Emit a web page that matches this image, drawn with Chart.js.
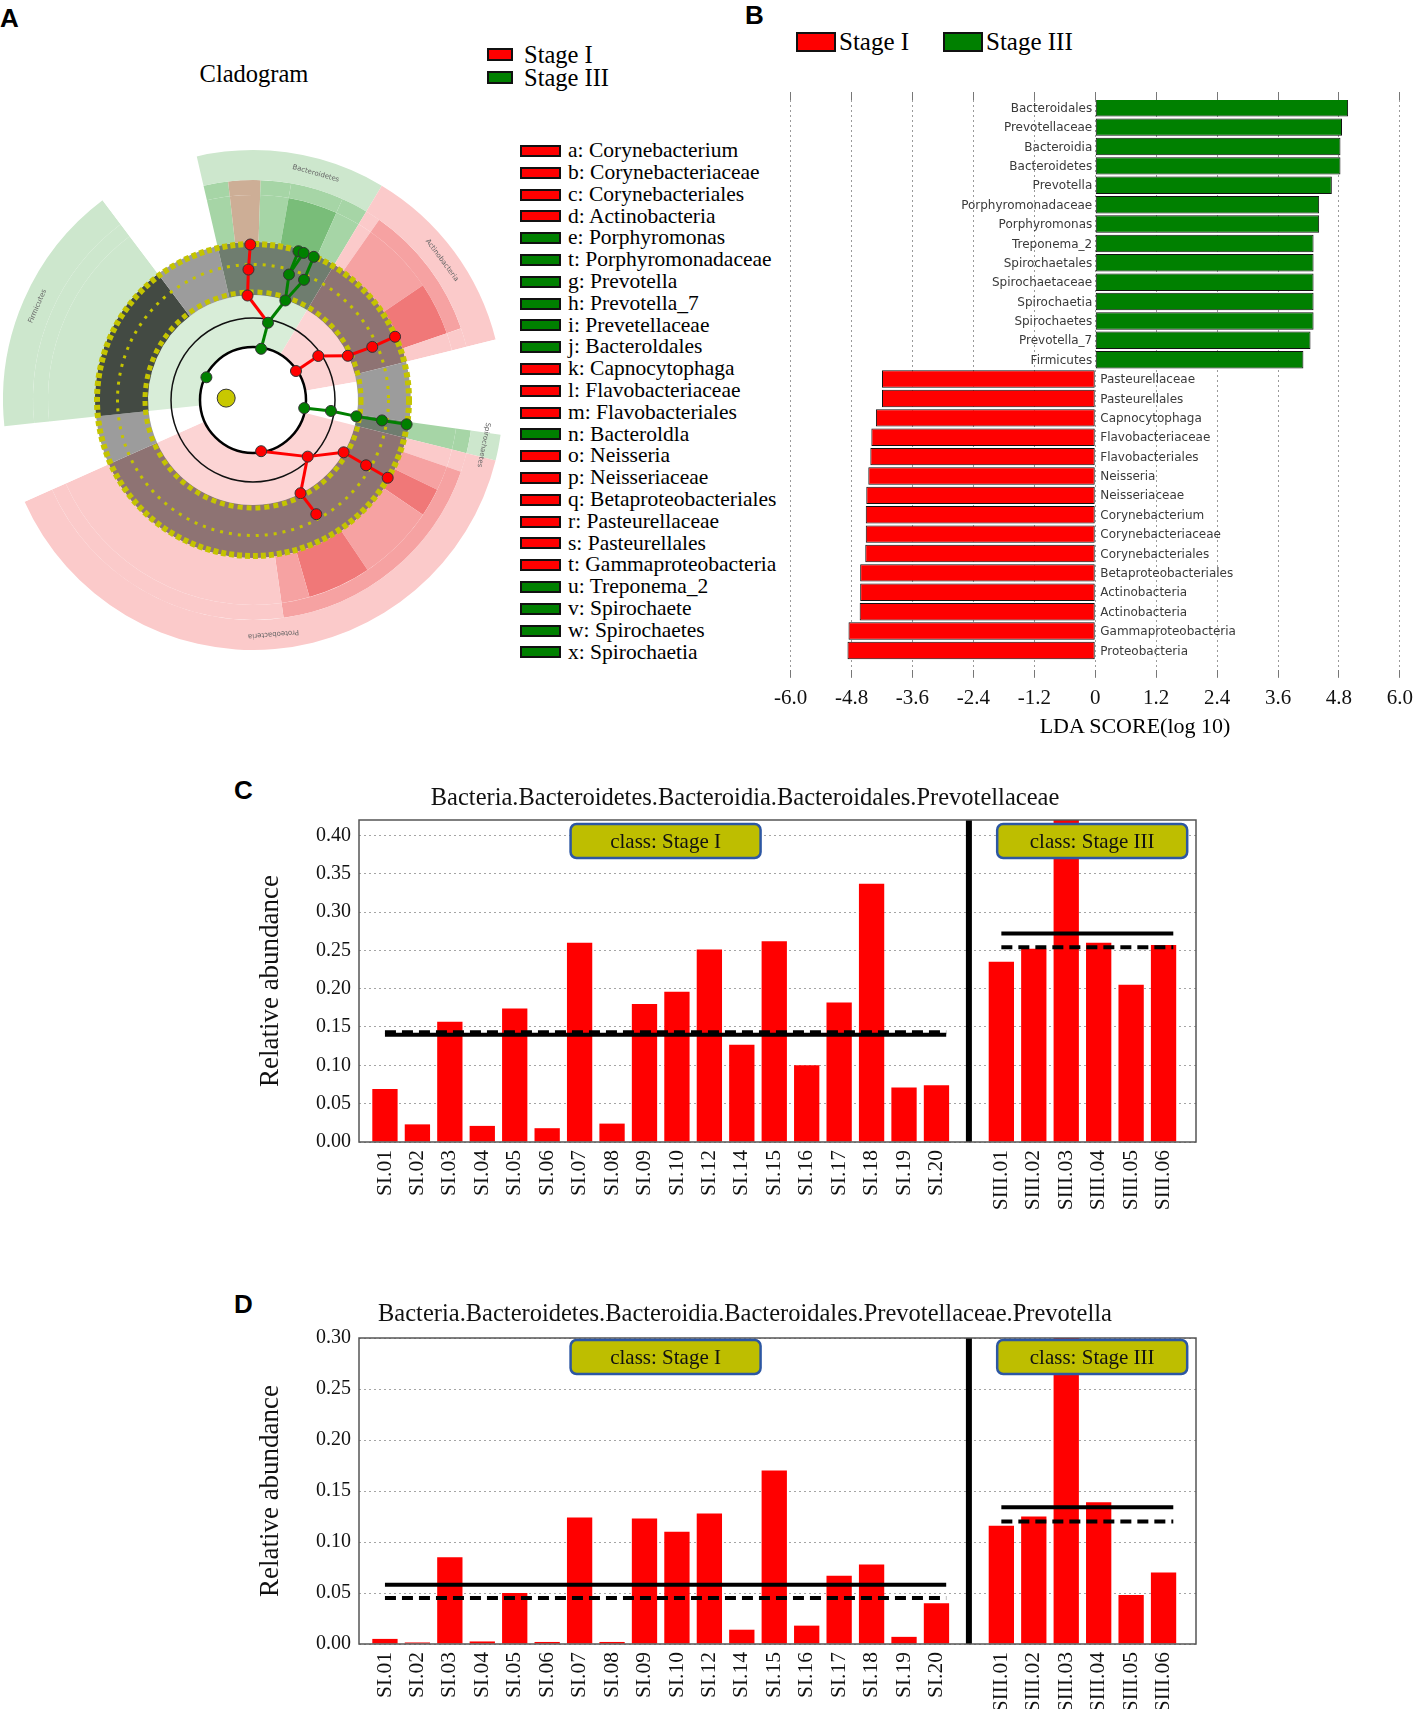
<!DOCTYPE html>
<html>
<head>
<meta charset="utf-8">
<title>LEfSe Stage I vs Stage III</title>
<script src="https://cdn.jsdelivr.net/npm/chart.js@4.4.1/dist/chart.umd.min.js"></script>
<style>
  body { margin: 0; width: 1417px; height: 1709px; position: relative; overflow: hidden; background: #fff; font-family: "Liberation Serif", "Times New Roman", serif; color: #000; }
  .abs { position: absolute; white-space: nowrap; }
  .letter { position: absolute; font: bold 26px "Liberation Sans", Arial, sans-serif; }
  canvas { position: absolute; }
  .box { position: absolute; border: 2px solid #111; box-sizing: border-box; }
</style>
</head>
<body>
<div class="letter" style="left:0;top:3px">A</div>
<div class="letter" style="left:745px;top:0">B</div>
<div class="letter" style="left:234px;top:775px">C</div>
<div class="letter" style="left:234px;top:1289px">D</div>
<div class="abs" style="left:154px;top:60px;width:200px;text-align:center;font-size:24.5px">Cladogram</div>
<div id="keys"></div>
<canvas id="cladeRings" width="500" height="500" style="left:3px;top:150px"></canvas>
<canvas id="cladeNodes" width="500" height="500" style="left:3px;top:150px"></canvas>
<canvas id="ldaChart" width="655" height="664" style="left:766px;top:65px"></canvas>
<div class="abs" style="left:985px;top:713px;width:300px;text-align:center;font-size:22px">LDA SCORE(log 10)</div>
<canvas id="familyChart" width="1000" height="435" style="left:245px;top:777px"></canvas>
<canvas id="genusChart" width="1000" height="426" style="left:245px;top:1288px"></canvas>
<script>
const SERIF = '"Liberation Serif", "Times New Roman", serif';
const STAGE_COLOR = { I: '#ff0000', III: '#008000' };
const stageNames = ['Stage I', 'Stage III'];
const stageKeys = ['I', 'III'];

// A: cladogram legend
const cladeLetters = ['a','b','c','d','e','t','g','h','i','j','k','l','m','n','o','p','q','r','s','t','u','v','w','x'];
const cladeNames = ['Corynebacterium','Corynebacteriaceae','Corynebacteriales','Actinobacteria','Porphyromonas',
  'Porphyromonadaceae','Prevotella','Prevotella_7','Prevetellaceae','Bacteroldales','Capnocytophaga',
  'Flavobacteriaceae','Flavobacteriales','Bacteroldla','Neisseria','Neisseriaceae','Betaproteobacteriales',
  'Pasteurellaceae','Pasteurellales','Gammaproteobacteria','Treponema_2','Spirochaete','Spirochaetes','Spirochaetia'];
const cladeStages = ['I','I','I','I','III','III','III','III','III','III','I','I','I','III','I','I','I','I','I','I','III','III','III','III'];

// A: cladogram sectors (degrees clockwise from top), outer ring to inner ring
const phylumNames = ['Bacteroidetes','Actinobacteria','','Spirochaetes','Proteobacteria','','Firmicutes','',''];
const phylumSpans = [31, 45, 22, 6, 142, 18, 59, 24, 13];
const phylumTags  = ['g','r','w','g','r','w','g','w','g'];
const classSpans = [2, 8, 14, 7, 4, 36, 5, 22, 6, 5, 63, 74, 18, 59, 24, 6.5, 6.5];
const classTags  = ['b','G','G','G','r','R','r','w','G','r','R','r','w','g','w','G','b'];
const orderSpans = [2, 8, 14, 7, 4, 21, 15, 5, 22, 6, 5, 7, 8, 22, 18, 8, 74, 18, 59, 24, 6.5, 6.5];
const orderTags  = ['b','G','GG','G','r','R','RR','r','w','G','r','R','RR','R','RR','R','r','w','g','w','G','b'];
const bandTags   = ['g','r','w','g','r','w','k','w','g'];
const innerSpans = [31, 49, 24, 142, 18, 96];
const innerTags  = ['g','r','w','r','w','g'];

// A: coloured biomarker nodes (angle, taxonomic depth 0=root..5=genus, parent node)
const nodeAngles = [274, 9, 11, 18, 16, 17, 19, 23, 23, 357, 358, 359, 296, 99, 98, 99, 99, 99, 56, 56, 65, 66, 66, 171, 136, 120, 120, 120, 153, 151];
const nodeLevels = [0, 1, 2, 3, 4, 5, 5, 4, 5, 3, 4, 5, 1, 1, 2, 3, 4, 5, 1, 2, 3, 4, 5, 1, 2, 3, 4, 5, 3, 4];
const nodeParents = [-1, -1, 1, 2, 3, 4, 4, 3, 7, 2, 9, 10, -1, -1, 13, 14, 15, 16, -1, 18, 19, 20, 21, -1, 23, 24, 25, 26, 24, 28];
const nodeStages = ['root','III','III','III','III','III','III','III','III','I','I','I','III','III','III','III','III','III',
  'I','I','I','I','I','I','I','I','I','I','I','I'];

// B: LDA scores
const ldaTaxa = ['Bacteroidales','Prevotellaceae','Bacteroidia','Bacteroidetes','Prevotella','Porphyromonadaceae',
  'Porphyromonas','Treponema_2','Spirochaetales','Spirochaetaceae','Spirochaetia','Spirochaetes','Prevotella_7',
  'Firmicutes','Pasteurellaceae','Pasteurellales','Capnocytophaga','Flavobacteriaceae','Flavobacteriales','Neisseria',
  'Neisseriaceae','Corynebacterium','Corynebacteriaceae','Corynebacteriales','Betaproteobacteriales','Actinobacteria',
  'Actinobacteria','Gammaproteobacteria','Proteobacteria'];
const ldaScores = [4.98, 4.86, 4.83, 4.83, 4.66, 4.41, 4.41, 4.30, 4.30, 4.30, 4.30, 4.30, 4.24, 4.10,
  -4.20, -4.20, -4.32, -4.41, -4.43, -4.47, -4.51, -4.52, -4.52, -4.53, -4.63, -4.63, -4.64, -4.86, -4.88];

// C, D: relative abundance per sample
const samplesI = ['SI.01','SI.02','SI.03','SI.04','SI.05','SI.06','SI.07','SI.08','SI.09','SI.10',
  'SI.12','SI.14','SI.15','SI.16','SI.17','SI.18','SI.19','SI.20'];
const samplesIII = ['SIII.01','SIII.02','SIII.03','SIII.04','SIII.05','SIII.06'];
const familyI = [0.069, 0.023, 0.157, 0.021, 0.174, 0.018, 0.260, 0.024, 0.180, 0.196, 0.251, 0.127, 0.262, 0.100, 0.182, 0.337, 0.071, 0.074];
const familyIII = [0.235, 0.252, 0.430, 0.260, 0.205, 0.257];
const familyMean = [0.140, 0.272];
const familyMedian = [0.143, 0.254];
const genusI = [0.005, 0.0015, 0.085, 0.0025, 0.050, 0.002, 0.124, 0.002, 0.123, 0.110, 0.128, 0.014, 0.170, 0.018, 0.067, 0.078, 0.007, 0.040];
const genusIII = [0.116, 0.125, 0.310, 0.139, 0.048, 0.070];
const genusMean = [0.058, 0.134];
const genusMedian = [0.045, 0.120];

// ---------- html keys ----------
const keys = document.getElementById('keys');
function addKey(left, top, w, h, stage, text, textLeft, size) {
  const b = document.createElement('div');
  b.className = 'box';
  Object.assign(b.style, { left: left + 'px', top: top + 'px', width: w + 'px', height: h + 'px', background: STAGE_COLOR[stage] });
  keys.appendChild(b);
  const t = document.createElement('div');
  t.className = 'abs';
  t.textContent = text;
  Object.assign(t.style, { left: textLeft + 'px', top: (top + h / 2 - size * 0.6) + 'px', fontSize: size + 'px', lineHeight: (size * 1.2) + 'px' });
  keys.appendChild(t);
}
stageNames.forEach((name, i) => addKey(487, 48 + i * 23, 26, 13, stageKeys[i], name, 524, 24.5));
cladeNames.forEach((name, i) => addKey(520, 145 + i * 21.8, 41, 12, cladeStages[i], cladeLetters[i] + ': ' + name, 568, 21.5));
stageNames.forEach((name, i) => addKey(796 + i * 147, 32, 40, 20, stageKeys[i], name, 839 + i * 147, 25));

// ---------- A: cladogram ----------
const ringShade = { g: '#cde7cd', G: '#a6d5a6', GG: '#79bd79', r: '#fbcaca', R: '#f6a2a2', RR: '#f07878', b: '#cdae96', w: '#ffffff' };
const bandShade = { g: '#6f7d6f', r: '#8e7373', w: '#9c9c9c', k: '#434a43' };
const innerShade = { g: '#d8edd8', r: '#fcd4d4', w: '#ffffff' };

function ring(spans, tags, shade, weight) {
  return { data: spans, backgroundColor: tags.map(t => shade[t]), borderWidth: 0, weight: weight };
}

const cladeDecor = {
  id: 'cladeDecor',
  afterDatasetsDraw(chart) {
    const ctx = chart.ctx;
    const inner = chart.getDatasetMeta(4).data[0];
    const band = chart.getDatasetMeta(3).data[0];
    const { x, y } = inner;
    const circle = (r, color, width, dash) => {
      ctx.save();
      ctx.beginPath();
      ctx.arc(x, y, r, 0, Math.PI * 2);
      ctx.strokeStyle = color;
      ctx.lineWidth = width;
      ctx.setLineDash(dash || []);
      ctx.stroke();
      ctx.restore();
    };
    circle(band.outerRadius - 2, '#c4c400', 6, [5, 3]);
    circle((band.innerRadius + band.outerRadius) / 2 + 4, '#c4c400', 3, [3, 6]);
    circle(band.innerRadius + 3, '#c4c400', 5, [5, 4]);
    circle(82, '#111', 1.5);
    circle(inner.innerRadius, '#000', 2.5);
    chart.getDatasetMeta(0).data.forEach((arc, i) => {
      if (!phylumNames[i]) return;
      const mid = (arc.startAngle + arc.endAngle) / 2;
      const r = (arc.innerRadius + arc.outerRadius) / 2;
      ctx.save();
      ctx.translate(x + r * Math.cos(mid), y + r * Math.sin(mid));
      ctx.rotate(mid + Math.PI / 2);
      ctx.font = '7px "DejaVu Sans"';
      ctx.fillStyle = '#666';
      ctx.textAlign = 'center';
      ctx.textBaseline = 'middle';
      ctx.fillText(phylumNames[i], 0, 0);
      ctx.restore();
    });
  }
};

new Chart(document.getElementById('cladeRings'), {
  type: 'doughnut',
  data: {
    labels: phylumNames,
    datasets: [
      ring(phylumSpans, phylumTags, ringShade, 30),
      ring(classSpans, classTags, ringShade, 15),
      ring(orderSpans, orderTags, ringShade, 47),
      ring(phylumSpans, bandTags, bandShade, 53),
      ring(innerSpans, innerTags, innerShade, 52)
    ]
  },
  options: {
    responsive: false,
    animation: false,
    events: [],
    cutout: '21.2%',
    plugins: { legend: { display: false }, tooltip: { enabled: false } }
  },
  plugins: [cladeDecor]
});

const nodeRadius = [28, 54, 82, 109, 136, 162];
const nodeFill = { I: '#ff0000', III: '#008000', root: '#c8c800' };
const nodePoints = nodeAngles.map((a, i) => {
  const r = nodeRadius[nodeLevels[i]];
  const t = a * Math.PI / 180;
  return { x: r * Math.sin(t), y: r * Math.cos(t) };
});

const cladeEdges = {
  id: 'cladeEdges',
  beforeDatasetsDraw(chart) {
    const { ctx, scales: { x, y } } = chart;
    ctx.save();
    ctx.lineWidth = 3;
    nodeParents.forEach((p, i) => {
      if (p < 0) return;
      ctx.strokeStyle = STAGE_COLOR[nodeStages[i]];
      ctx.beginPath();
      ctx.moveTo(x.getPixelForValue(nodePoints[p].x), y.getPixelForValue(nodePoints[p].y));
      ctx.lineTo(x.getPixelForValue(nodePoints[i].x), y.getPixelForValue(nodePoints[i].y));
      ctx.stroke();
    });
    ctx.restore();
  }
};

new Chart(document.getElementById('cladeNodes'), {
  type: 'scatter',
  data: {
    datasets: [{
      data: nodePoints,
      pointBackgroundColor: nodeStages.map(s => nodeFill[s]),
      pointBorderColor: '#333',
      pointBorderWidth: 1,
      pointRadius: nodeLevels.map(l => l === 0 ? 9 : 5.5)
    }]
  },
  options: {
    responsive: false,
    animation: false,
    events: [],
    layout: { padding: 0 },
    scales: {
      x: { display: false, min: -250, max: 250 },
      y: { display: false, min: -250, max: 250 }
    },
    plugins: { legend: { display: false }, tooltip: { enabled: false } }
  },
  plugins: [cladeEdges]
});

// ---------- B: LDA bars ----------
const ldaLabels = {
  id: 'ldaLabels',
  afterDatasetsDraw(chart) {
    const { ctx, scales: { x, y } } = chart;
    const zero = x.getPixelForValue(0);
    ctx.save();
    ctx.font = '12px "DejaVu Sans"';
    ctx.fillStyle = '#3a3a3a';
    ctx.textBaseline = 'middle';
    ldaTaxa.forEach((name, i) => {
      const up = ldaScores[i] > 0;
      ctx.textAlign = up ? 'right' : 'left';
      ctx.fillText(name, zero + (up ? -3 : 5), y.getPixelForValue(i) + 1);
    });
    ctx.restore();
  }
};

new Chart(document.getElementById('ldaChart'), {
  type: 'bar',
  data: {
    datasets: stageKeys.map((s, k) => ({
      label: stageNames[k],
      data: ldaScores.map((v, i) => ({ x: v, y: i })).filter(p => (s === 'I') === (p.x < 0)),
      backgroundColor: STAGE_COLOR[s],
      borderColor: '#111',
      borderWidth: 1,
      borderSkipped: false,
      grouped: false,
      barPercentage: 0.9,
      categoryPercentage: 1
    }))
  },
  options: {
    indexAxis: 'y',
    responsive: false,
    animation: false,
    events: [],
    layout: { padding: { top: 27, bottom: 10, left: 20, right: 0 } },
    scales: {
      x: {
        type: 'linear', min: -6, max: 6,
        ticks: {
          stepSize: 1.2, padding: 8, color: '#111', maxRotation: 0, minRotation: 0,
          font: { family: SERIF, size: 21 },
          callback: v => Math.abs(v) < 1e-9 ? '0' : v.toFixed(1)
        },
        grid: { color: '#9a9a9a', tickLength: 8, tickColor: '#777' },
        border: { display: false, dash: [2, 3] }
      },
      x2: {
        type: 'linear', position: 'top', min: -6, max: 6,
        ticks: { stepSize: 1.2, display: false },
        grid: { drawOnChartArea: false, tickLength: 8, tickColor: '#777' },
        border: { display: false }
      },
      y: { type: 'linear', min: -0.4, max: ldaTaxa.length, reverse: true, offset: false, display: false }
    },
    plugins: { legend: { display: false }, tooltip: { enabled: false } }
  },
  plugins: [ldaLabels]
});

// ---------- C, D: abundance bars ----------
function classBox(ctx, cx, top, text) {
  const w = 190, h = 34, r = 6;
  ctx.save();
  ctx.beginPath();
  ctx.roundRect(cx - w / 2, top, w, h, r);
  ctx.fillStyle = '#bebe00';
  ctx.fill();
  ctx.lineWidth = 2.5;
  ctx.strokeStyle = '#2d57a3';
  ctx.stroke();
  ctx.fillStyle = '#111';
  ctx.font = '21px ' + SERIF;
  ctx.textAlign = 'center';
  ctx.textBaseline = 'middle';
  ctx.fillText(text, cx, top + h / 2 + 1);
  ctx.restore();
}

function abundanceChart(id, title, valuesI, valuesIII, means, medians, yMax, titlePad, boxTop) {
  const gap = valuesI.length;
  const positions = valuesI.map((_, i) => i).concat(valuesIII.map((_, i) => gap + 1 + i));
  const labels = samplesI.concat(samplesIII);
  const values = valuesI.concat(valuesIII);
  const last = positions[positions.length - 1];
  const hline = (x0, x1, v, dash) => ({
    type: 'line', data: [{ x: x0, y: v }, { x: x1, y: v }],
    borderColor: '#000', borderWidth: 4, borderDash: dash, pointRadius: 0, order: 0
  });

  const decor = {
    id: 'decor' + id,
    afterDatasetsDraw(chart) {
      const { ctx, chartArea: a, scales: { x } } = chart;
      ctx.save();
      ctx.strokeStyle = '#555';
      ctx.lineWidth = 1.5;
      ctx.strokeRect(a.left, a.top, a.right - a.left, a.bottom - a.top);
      ctx.restore();
      classBox(ctx, x.getPixelForValue((gap - 1) / 2 + 0.15), a.top + boxTop, 'class: ' + stageNames[0]);
      classBox(ctx, x.getPixelForValue((gap + 1 + last) / 2 + 0.3), a.top + boxTop, 'class: ' + stageNames[1]);
    }
  };

  new Chart(document.getElementById(id), {
    type: 'bar',
    data: {
      datasets: [
        {
          type: 'bar', order: 1,
          data: positions.map((p, i) => ({ x: p, y: values[i] })),
          backgroundColor: '#ff0000',
          barPercentage: 0.78, categoryPercentage: 1
        },
        hline(0, gap - 1 + 0.3, means[0], []),
        hline(0, gap - 1 + 0.3, medians[0], [11, 6]),
        hline(gap + 1, last + 0.3, means[1], []),
        hline(gap + 1, last + 0.3, medians[1], [11, 6]),
        {
          type: 'line', data: [{ x: gap, y: 0 }, { x: gap, y: yMax }],
          borderColor: '#000', borderWidth: 6, pointRadius: 0, order: 0
        }
      ]
    },
    options: {
      responsive: false,
      animation: false,
      events: [],
      layout: { padding: 0 },
      scales: {
        x: {
          type: 'linear', min: -0.8, max: last + 1, offset: false,
          afterBuildTicks: axis => { axis.ticks = positions.map(v => ({ value: v })); },
          afterFit: s => { s.height = 70; },
          ticks: {
            autoSkip: false, minRotation: 90, maxRotation: 90, padding: 0, color: '#111',
            font: { family: SERIF, size: 21.5 },
            callback: v => labels[positions.indexOf(v)]
          },
          grid: { display: false },
          border: { display: false }
        },
        y: {
          min: 0, max: yMax,
          afterFit: s => { s.width = 114; },
          ticks: {
            stepSize: 0.05, includeBounds: false, padding: 8, color: '#111',
            font: { family: SERIF, size: 20 },
            callback: v => v.toFixed(2)
          },
          grid: { color: '#a5a5a5', drawTicks: false },
          border: { display: false, dash: [2, 3] },
          title: {
            display: true, text: 'Relative abundance', color: '#111',
            font: { family: SERIF, size: 27 }, padding: { top: 10, bottom: 0 }
          }
        },
        yRight: {
          type: 'linear', position: 'right', min: 0, max: yMax,
          afterFit: s => { s.width = 49; },
          ticks: { display: false },
          grid: { display: false },
          border: { display: false }
        }
      },
      plugins: {
        legend: { display: false },
        tooltip: { enabled: false },
        title: {
          display: true, text: title, color: '#111',
          font: { family: SERIF, size: 24.5, weight: 'normal' },
          padding: titlePad
        }
      }
    },
    plugins: [decor]
  });
}

abundanceChart('familyChart', 'Bacteria.Bacteroidetes.Bacteroidia.Bacteroidales.Prevotellaceae',
  familyI, familyIII, familyMean, familyMedian, 0.42, { top: 7, bottom: 6.6 }, 4);
abundanceChart('genusChart', 'Bacteria.Bacteroidetes.Bacteroidia.Bacteroidales.Prevotellaceae.Prevotella',
  genusI, genusIII, genusMean, genusMedian, 0.30, { top: 12.3, bottom: 8.3 }, 2);
</script>
</body>
</html>
